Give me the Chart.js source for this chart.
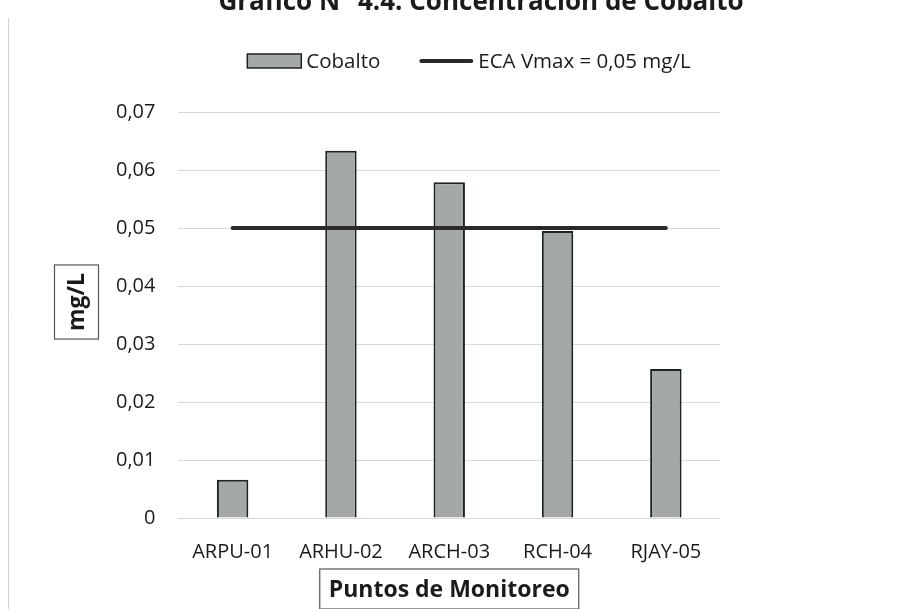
<!DOCTYPE html>
<html>
<head>
<meta charset="utf-8">
<script src="https://cdn.jsdelivr.net/npm/chart.js@4"></script>
<style>
  html, body { margin: 0; padding: 0; background: #ffffff; }
  #c { display: block; }
</style>
</head>
<body>
<canvas id="c" width="910" height="609"></canvas>
<script>
// Cobalt concentration per monitoring point, with the ECA limit line
const chartTitle = 'Gráfico N° 4.4: Concentración de Cobalto';
const categories = ['ARPU-01', 'ARHU-02', 'ARCH-03', 'RCH-04', 'RJAY-05'];
const cobalto = [0.0066, 0.0633, 0.0579, 0.0495, 0.0257];
const ecaLimit = [0.05, 0.05, 0.05, 0.05, 0.05];
const seriesNames = ['Cobalto', 'ECA Vmax = 0,05 mg/L'];
const yTickLabels = ['0', '0,01', '0,02', '0,03', '0,04', '0,05', '0,06', '0,07'];
const yAxisTitle = 'mg/L';
const xAxisTitle = 'Puntos de Monitoreo';

const FONT = '"Open Sans", "Noto Sans", sans-serif';
const TEXT = '#1b1b1b';

// Title, boxed axis titles and the legend row
const decorations = {
  id: 'decorations',
  afterDraw(chart) {
    const { ctx, chartArea } = chart;
    ctx.save();

    // faint page edge on the left
    ctx.strokeStyle = '#d2d2d2';
    ctx.lineWidth = 1;
    ctx.beginPath();
    ctx.moveTo(8.5, 18);
    ctx.lineTo(8.5, 609);
    ctx.stroke();

    // chart title (runs off the top edge)
    ctx.fillStyle = TEXT;
    ctx.font = 'bold 26px ' + FONT;
    ctx.textAlign = 'center';
    ctx.textBaseline = 'alphabetic';
    ctx.fillText(chartTitle, 481, 10);

    // legend
    ctx.font = '20.5px ' + FONT;
    ctx.textBaseline = 'middle';
    ctx.textAlign = 'left';
    const symW = 54, gap = 5, spacing = 39, ly = 61;
    const widths = chart.data.datasets.map(ds => symW + gap + ctx.measureText(ds.label).width);
    const total = widths.reduce((a, b) => a + b, 0) + spacing * (widths.length - 1);
    let lx = 469 - total / 2;
    chart.data.datasets.forEach((ds, i) => {
      if (ds.type === 'bar') {
        ctx.fillStyle = ds.backgroundColor;
        ctx.fillRect(lx, ly - 7, symW, 14);
        ctx.strokeStyle = ds.borderColor;
        ctx.lineWidth = 1.5;
        ctx.strokeRect(lx, ly - 7, symW, 14);
      } else {
        ctx.strokeStyle = ds.borderColor;
        ctx.lineWidth = ds.borderWidth;
        ctx.lineCap = 'round';
        ctx.beginPath();
        ctx.moveTo(lx + 2, ly);
        ctx.lineTo(lx + symW - 2, ly);
        ctx.stroke();
      }
      ctx.fillStyle = TEXT;
      ctx.fillText(ds.label, lx + symW + gap, ly + 1);
      lx += widths[i] + spacing;
    });

    // boxed axis titles
    ctx.font = 'bold 23px ' + FONT;
    ctx.textAlign = 'center';
    ctx.textBaseline = 'middle';
    ctx.strokeStyle = '#555555';
    ctx.lineWidth = 1.2;

    const xc = (chartArea.left + chartArea.right) / 2;
    const xy = chartArea.bottom + 71;
    const xw = ctx.measureText(xAxisTitle).width;
    ctx.strokeRect(xc - xw / 2 - 9, chartArea.bottom + 51, xw + 18, 40);
    ctx.fillStyle = TEXT;
    ctx.fillText(xAxisTitle, xc, xy + 1);

    const yc = (chartArea.top + chartArea.bottom) / 2 - 13;
    const ycx = 76.5;
    const yw = ctx.measureText(yAxisTitle).width;
    ctx.strokeRect(ycx - 22, yc - yw / 2 - 8, 44, yw + 16);
    ctx.translate(ycx, yc);
    ctx.rotate(-Math.PI / 2);
    ctx.fillText(yAxisTitle, 0, 1);

    ctx.restore();
  }
};

new Chart(document.getElementById('c'), {
  data: {
    labels: categories,
    datasets: [
      {
        type: 'bar',
        label: seriesNames[0],
        data: cobalto,
        backgroundColor: '#a4a9a6',
        borderColor: '#1c2422',
        borderWidth: 2,
        barPercentage: 0.29,
        categoryPercentage: 1,
        order: 1
      },
      {
        type: 'line',
        label: seriesNames[1],
        data: ecaLimit,
        borderColor: '#2a2a2a',
        backgroundColor: '#2a2a2a',
        borderWidth: 4,
        borderCapStyle: 'round',
        pointRadius: 0,
        fill: false,
        order: 0
      }
    ]
  },
  options: {
    responsive: false,
    devicePixelRatio: 1,
    animation: false,
    layout: { padding: { left: 93, right: 190, top: 112, bottom: 23 } },
    plugins: {
      legend: { display: false },
      title: { display: false },
      tooltip: { enabled: false }
    },
    scales: {
      x: {
        grid: { display: false, drawTicks: false },
        border: { display: false },
        ticks: {
          color: TEXT,
          font: { family: FONT, size: 20 },
          padding: 22,
          maxRotation: 0,
          autoSkip: false
        }
      },
      y: {
        min: 0,
        max: 0.07,
        grid: { color: '#d9d9d9', lineWidth: 1, drawTicks: false },
        border: { display: false },
        ticks: {
          stepSize: 0.01,
          color: TEXT,
          font: { family: FONT, size: 20 },
          padding: 23,
          callback: (v, i) => yTickLabels[i]
        }
      }
    }
  },
  plugins: [decorations]
});
</script>
</body>
</html>
